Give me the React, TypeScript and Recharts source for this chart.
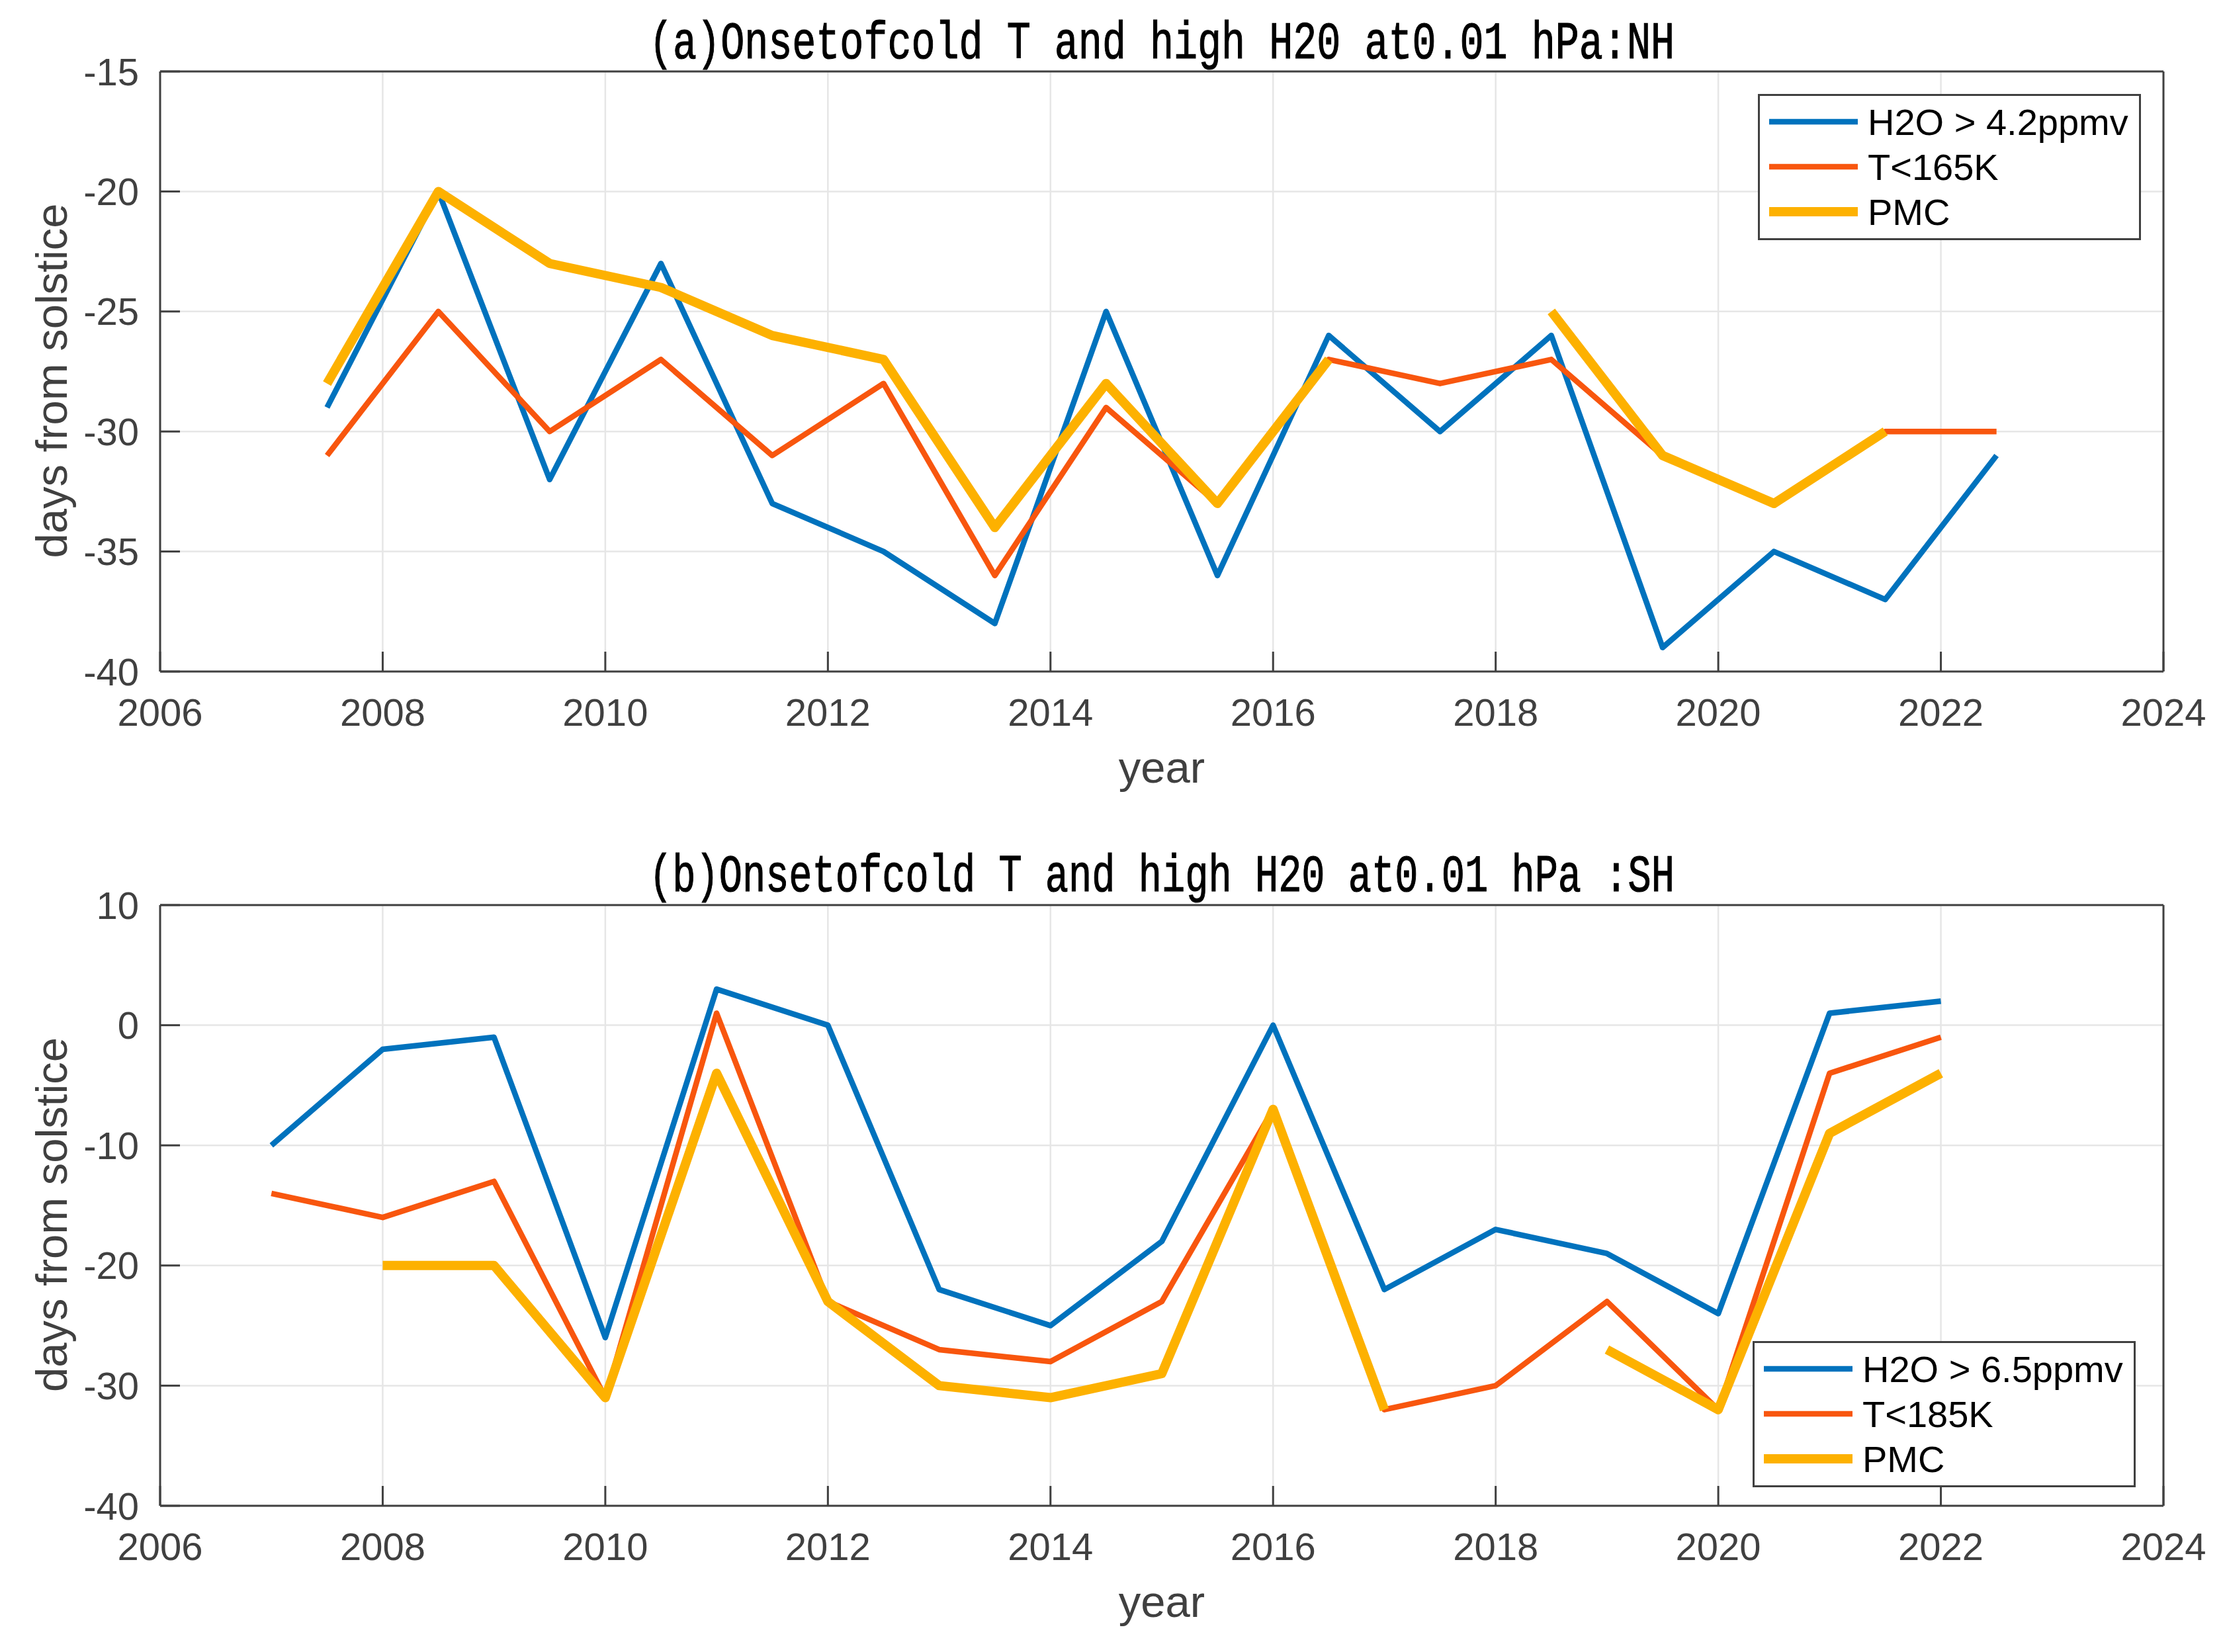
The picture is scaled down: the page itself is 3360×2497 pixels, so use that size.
import React from 'react';
import { LineChart, Line, XAxis, YAxis, CartesianGrid, Legend } from 'recharts';

const FONT = '"Liberation Sans", Arial, Helvetica, sans-serif';
const TITLE_FONT = '"Liberation Mono", "Courier New", monospace';
const AXIS = '#404040';
const GRID = '#e6e6e6';
const W = 3344;

// shared x ticks
const xTicks = [2006, 2008, 2010, 2012, 2014, 2016, 2018, 2020, 2022, 2024];

// (a) NH
const yearsNH = [2007.5, 2008.5, 2009.5, 2010.5, 2011.5, 2012.5, 2013.5, 2014.5, 2015.5, 2016.5, 2017.5, 2018.5, 2019.5, 2020.5, 2021.5, 2022.5];
const h2oNH = [-29, -20, -32, -23, -33, -35, -38, -25, -36, -26, -30, -26, -39, -35, -37, -31];
const tNH = [-31, -25, -30, -27, -31, -28, -36, -29, -33, -27, -28, -27, -31, -33, -30, -30];
const pmcNH = [-28, -20, -23, -24, -26, -27, -34, -28, -33, -27, null, -25, -31, -33, -30, null];
const yTicksNH = [-40, -35, -30, -25, -20, -15];
const namesNH = ['H2O > 4.2ppmv', 'T<165K', 'PMC'];
const titleNH = '(a)Onsetofcold T and high H20 at0.01 hPa:NH';

// (b) SH
const yearsSH = [2007, 2008, 2009, 2010, 2011, 2012, 2013, 2014, 2015, 2016, 2017, 2018, 2019, 2020, 2021, 2022];
const h2oSH = [-10, -2, -1, -26, 3, 0, -22, -25, -18, 0, -22, -17, -19, -24, 1, 2];
const tSH = [-14, -16, -13, -31, 1, -23, -27, -28, -23, -7, -32, -30, -23, -32, -4, -1];
const pmcSH = [null, -20, -20, -31, -4, -23, -30, -31, -29, -7, -32, null, -27, -32, -9, -4];
const yTicksSH = [-40, -30, -20, -10, 0, 10];
const namesSH = ['H2O > 6.5ppmv', 'T<185K', 'PMC'];
const titleSH = '(b)Onsetofcold T and high H20 at0.01 hPa :SH';

const KEYS = ['h2o', 't', 'pmc'];
const COLORS = { h2o: '#0072BD', t: '#F8560E', pmc: '#FDB100' };
const WIDTHS = { h2o: 8.5, t: 8.5, pmc: 14 };

function buildRows(years, h2o, t, pmc) {
  return years.map((year, i) => ({ year, h2o: h2o[i], t: t[i], pmc: pmc[i] }));
}

const dataNH = buildRows(yearsNH, h2oNH, tNH, pmcNH);
const dataSH = buildRows(yearsSH, h2oSH, tSH, pmcSH);

const LEG_W = 579;
const LEG_H = 221;
const LEG_ROWS = [42, 110, 178];

function LegendBox(props) {
  const payload = (props.payload || []).slice().sort(
    (a, b) => KEYS.indexOf(a.dataKey) - KEYS.indexOf(b.dataKey)
  );
  return (
    <svg width={LEG_W} height={LEG_H} style={{ display: 'block' }}>
      <rect x={1.5} y={1.5} width={LEG_W - 3} height={LEG_H - 3} fill="#fff" stroke={AXIS} strokeWidth={3} />
      {payload.map((p, i) => (
        <g key={p.dataKey}>
          <line x1={17} x2={151} y1={LEG_ROWS[i]} y2={LEG_ROWS[i]} stroke={p.color} strokeWidth={WIDTHS[p.dataKey]} />
          <text x={166} y={LEG_ROWS[i] + 20} fontSize={56} fontFamily={FONT} fill="#000">
            {p.value}
          </text>
        </g>
      ))}
    </svg>
  );
}

function makeYLabel(text) {
  return function YLabel(props) {
    const vb = props.viewBox || {};
    const cx = vb.x + 5;
    const cy = vb.y + vb.height / 2 + 14;
    return (
      <text
        x={cx}
        y={cy}
        transform={`rotate(-90 ${cx} ${cy})`}
        textAnchor="middle"
        dominantBaseline="central"
        fontSize={67}
        fontFamily={FONT}
        fill={AXIS}
      >
        {text}
      </text>
    );
  };
}

function Panel({ data, yTicks, names, title, height, marginTop, marginBottom, legendTop, legendLeft, titleY }) {
  const yDomain = [yTicks[0], yTicks[yTicks.length - 1]];
  const axisLine = { stroke: AXIS, strokeWidth: 3 };
  const tickLine = { stroke: AXIS, strokeWidth: 3 };
  return (
    <div style={{ position: 'relative', width: W, height }}>
      <LineChart
        width={W}
        height={height}
        data={data}
        margin={{ top: marginTop, right: 52, bottom: marginBottom, left: 64 }}
      >
        <CartesianGrid stroke={GRID} strokeWidth={2.5} />
        <XAxis
          xAxisId={0}
          dataKey="year"
          type="number"
          domain={[2006, 2024]}
          ticks={xTicks}
          interval={0}
          allowDataOverflow
          height={168}
          axisLine={axisLine}
          tickLine={tickLine}
          tickSize={-30}
          tickMargin={71}
          tick={{ fill: AXIS, fontSize: 58, fontFamily: FONT }}
          label={{ value: 'year', position: 'insideBottom', offset: 0, fill: AXIS, fontSize: 67, fontFamily: FONT }}
        />
        <XAxis
          xAxisId="top"
          orientation="top"
          type="number"
          domain={[2006, 2024]}
          ticks={xTicks}
          interval={0}
          allowDataOverflow
          height={30}
          axisLine={axisLine}
          tickLine={tickLine}
          tickSize={-30}
          tick={false}
        />
        <YAxis
          yAxisId={0}
          type="number"
          domain={yDomain}
          ticks={yTicks}
          interval={0}
          allowDataOverflow
          width={170}
          axisLine={axisLine}
          tickLine={tickLine}
          tickSize={-30}
          tickMargin={62}
          tick={{ fill: AXIS, fontSize: 58, fontFamily: FONT }}
          label={{ content: makeYLabel('days from solstice') }}
        />
        <YAxis
          yAxisId="right"
          orientation="right"
          type="number"
          domain={yDomain}
          ticks={yTicks}
          interval={0}
          allowDataOverflow
          width={30}
          axisLine={axisLine}
          tickLine={tickLine}
          tickSize={-30}
          tick={false}
        />
        <Legend
          layout="vertical"
          align="center"
          verticalAlign="middle"
          wrapperStyle={{ left: legendLeft, top: legendTop, width: LEG_W, height: LEG_H }}
          content={(p) => <LegendBox payload={p.payload} />}
        />
        {KEYS.map((k, i) => (
          <Line
            key={k}
            type="linear"
            dataKey={k}
            name={names[i]}
            stroke={COLORS[k]}
            strokeWidth={WIDTHS[k]}
            strokeLinejoin="round"
            dot={false}
            activeDot={false}
            connectNulls={false}
            isAnimationActive={false}
          />
        ))}
      </LineChart>
      <svg
        width={W}
        height={150}
        style={{ position: 'absolute', left: 0, top: 0, pointerEvents: 'none' }}
      >
        <text
          x={1748}
          y={titleY}
          textAnchor="middle"
          fontSize={80}
          fontFamily={TITLE_FONT}
          textLength={1550}
          lengthAdjust="spacingAndGlyphs"
          fill="#000"
          stroke="#000"
          strokeWidth={1.2}
        >
          {title}
        </text>
      </svg>
    </div>
  );
}

export default function App() {
  return (
    <div style={{ width: W, height: 2481, background: '#fff', fontFamily: FONT }}>
      <Panel
        data={dataNH}
        yTicks={yTicksNH}
        names={namesNH}
        title={titleNH}
        height={1245}
        marginTop={70}
        marginBottom={70}
        legendTop={134}
        legendLeft={2649}
        titleY={80}
      />
      <Panel
        data={dataSH}
        yTicks={yTicksSH}
        names={namesSH}
        title={titleSH}
        height={1236}
        marginTop={85}
        marginBottom={45}
        legendTop={774}
        legendLeft={2641}
        titleY={94}
      />
    </div>
  );
}
